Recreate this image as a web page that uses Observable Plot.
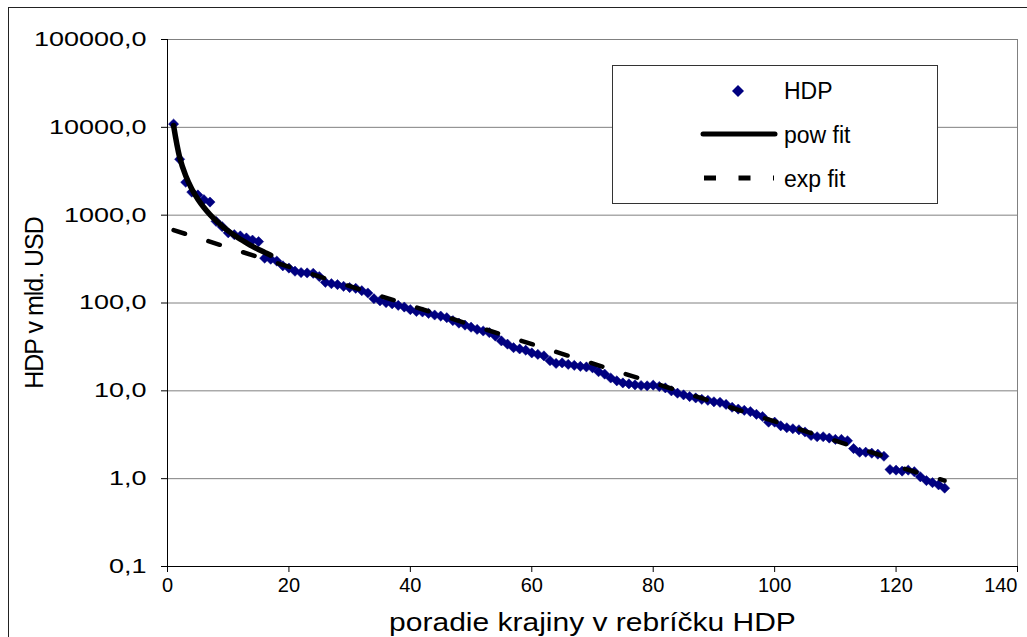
<!DOCTYPE html>
<html><head><meta charset="utf-8">
<script src="https://cdn.jsdelivr.net/npm/d3@7"></script>
<script src="https://cdn.jsdelivr.net/npm/@observablehq/plot@0.6"></script>
<style>
html,body{margin:0;padding:0;background:#fff;}
#wrap{position:relative;width:1027px;height:637px;overflow:hidden;font-family:"Liberation Sans",Arial,sans-serif;}
#border{position:absolute;left:8px;top:7px;width:1100px;height:700px;border:1.5px solid #222;pointer-events:none;}
#legend{position:absolute;left:612px;top:65px;width:326px;height:139px;border:1px solid #333;background:#fff;box-sizing:border-box;}
#legend svg{position:absolute;left:0;top:0;}
</style></head><body><div id="wrap"><div id="border"></div></div>
<script>
// rank of the country in the GDP table
const ranks = d3.range(1, 129);
// GDP in billions USD
const hdp = [
 10900, 4330, 2370, 1830, 1700, 1500, 1410, 850, 740, 630,
 600, 580, 550, 520, 500, 324, 315, 300, 265, 250,
 230, 222, 220, 218, 200, 172, 166, 162, 155, 150,
 147, 138, 130, 112, 106, 101, 98, 94, 90,
 84, 80, 79, 76, 73, 71, 68, 63, 59, 56,
 53, 50, 48, 46, 42, 37, 34, 31, 30, 29,
 27, 26, 25, 22, 20.5, 20.8, 20, 19.5, 19, 18.7,
 18.3, 16.5, 15.5, 14, 13, 12.3, 12, 11.7, 11.5, 11.4,
 11.6, 11.2, 10.8, 10, 9.4, 9.0, 8.6, 8.3, 8.0, 7.8,
 7.5, 7.4, 7.0, 6.5, 6.2, 6.0, 5.8, 5.4, 5.1,
 4.4, 4.4, 4.0, 3.8, 3.7, 3.6, 3.4, 3.1, 3.0, 3.0,
 2.9, 2.8, 2.8, 2.7, 2.2, 2.0, 2.0, 1.95, 1.9, 1.8,
 1.27, 1.25, 1.22, 1.25, 1.2, 1.05, 0.95, 0.9, 0.85, 0.78
];
// power-law fit (ranks 1..17)
const powRank = [1,2,3,4,5,6,7,8,9,10,11,12,13,14,15,16,17];
const powFit = [10500, 4571, 2810, 1989, 1522, 1223, 1016, 866, 752, 662, 591, 532, 484, 442, 407, 377, 350];
// exponential fit, two segments (straight on log axis)
const expRank1 = [1, 118];
const expFit1 = [676, 1.8];
const expRank2 = [119, 128];
const expFit2 = [1.45, 0.95];
// axis ticks
const xTicks = [0, 20, 40, 60, 80, 100, 120, 140];
const yTicks = [0.1, 1, 10, 100, 1000, 10000, 100000];

const data = ranks.map((r, i) => ({rank: r, hdp: hdp[i]}));
const pow = powRank.map((r, i) => ({rank: r, v: powFit[i]}));
const exp1 = expRank1.map((r, i) => ({rank: r, v: expFit1[i]}));
const exp2 = expRank2.map((r, i) => ({rank: r, v: expFit2[i]}));
const fmt = d => d.toFixed(1).replace(".", ",");

const chart = Plot.plot({
  width: 1027, height: 637,
  marginLeft: 167, marginRight: 10, marginTop: 39, marginBottom: 71,
  style: {fontFamily: '"Liberation Sans", Arial, sans-serif', fontSize: "20px", color: "#000", background: "transparent"},
  x: {domain: [0, 140]},
  y: {type: "log", domain: [0.1, 100000]},
  marks: [
    Plot.ruleY(yTicks, {stroke: "#808080", strokeWidth: 1}),
    Plot.ruleX([140], {stroke: "#808080", strokeWidth: 1}),
    Plot.dot(data, {x: "rank", y: "hdp", symbol: "diamond2", r: 4.6, fill: "#000080", stroke: "#000080", strokeWidth: 0.5}),
    Plot.line(exp1, {x: "rank", y: "v", stroke: "#000", strokeWidth: 4.5, strokeDasharray: "12 24.5"}),
    Plot.line(exp2, {x: "rank", y: "v", stroke: "#000", strokeWidth: 4.5, strokeDasharray: "12 24.5", strokeDashoffset: 21}),
    Plot.line(pow, {x: "rank", y: "v", stroke: "#000", strokeWidth: 5.5, curve: "catmull-rom", strokeLinecap: "round"}),
    Plot.ruleX([0], {stroke: "#000", strokeWidth: 1}),
    Plot.ruleY([0.1], {stroke: "#000", strokeWidth: 1}),
    Plot.axisY({ticks: yTicks, tickFormat: fmt, tickSize: 6, tickPadding: 15, stroke: "#000",
      label: "HDP v mld. USD", labelAnchor: "center", labelArrow: "none", labelOffset: 142, fontSize: 25}),
    Plot.axisY({ticks: yTicks, tickFormat: fmt, tickSize: 6, tickPadding: 15, stroke: "#000", label: null}),
    Plot.axisX({ticks: xTicks, tickSize: 6, tickPadding: 5, stroke: "#000", label: null}),
    Plot.axisX({ticks: [], label: "poradie krajiny v rebríčku HDP", labelAnchor: "center", labelArrow: "none", labelOffset: 64, fontSize: 25})
  ]
});

function stretch(t, sx) {
  const tr = t.getAttribute("transform");
  if (tr) t.setAttribute("transform", tr + ` scale(${sx},1)`);
  else {
    const x = t.getAttribute("x") || 0, y = t.getAttribute("y") || 0;
    t.setAttribute("transform", `translate(${x},${y}) scale(${sx},1)`);
    t.setAttribute("x", 0); t.setAttribute("y", 0);
  }
}
// remove the duplicate tick labels of the label-only y axis
const yLabelGroups = chart.querySelectorAll('g[aria-label="y-axis tick label"]');
if (yLabelGroups.length > 1) yLabelGroups[0].remove();
const yTickGroups = chart.querySelectorAll('g[aria-label="y-axis tick"]');
if (yTickGroups.length > 1) yTickGroups[0].remove();
chart.querySelectorAll('g[aria-label="y-axis tick label"] text').forEach(t => stretch(t, 1.35));
chart.querySelectorAll('g[aria-label="x-axis label"] text').forEach(t => stretch(t, 1.2));
chart.querySelectorAll('g[aria-label="y-axis label"] text').forEach(t => t.setAttribute("letter-spacing", "-1"));
chart.querySelectorAll('g[aria-label="x-axis tick label"] text').forEach(t => {
  if (t.textContent === "140") t.setAttribute("text-anchor", "end");
});

const wrap = document.getElementById("wrap");
wrap.insertBefore(chart, wrap.firstChild);

const legend = document.createElement("div");
legend.id = "legend";
legend.innerHTML = `<svg width="326" height="139" font-family="Liberation Sans, Arial, sans-serif" font-size="23">
  <path d="M125,19 L131,25 L125,31 L119,25 Z" fill="#000080"/>
  <text x="171" y="33">HDP</text>
  <line x1="90" y1="68" x2="162" y2="68" stroke="#000" stroke-width="5" stroke-linecap="round"/>
  <text x="171" y="77">pow fit</text>
  <line x1="91" y1="112" x2="161" y2="112" stroke="#000" stroke-width="5" stroke-dasharray="12 22.5"/>
  <text x="171" y="121">exp fit</text>
</svg>`;
wrap.appendChild(legend);
</script>
</body></html>
